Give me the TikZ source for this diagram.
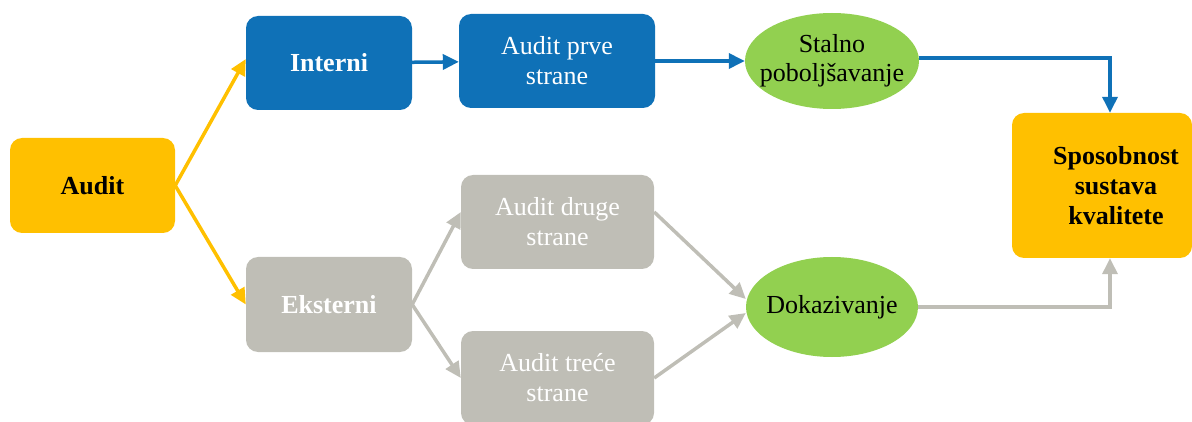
\documentclass[tikz,border=0pt]{standalone}
\usepackage{fontspec}
\setmainfont{Liberation Serif}
\usetikzlibrary{arrows.meta,positioning,calc,shapes.geometric}
\definecolor{auditblue}{HTML}{0F71B7}
\definecolor{auditorange}{HTML}{FFC000}
\definecolor{auditgray}{HTML}{BFBEB6}
\definecolor{auditgreen}{HTML}{92D050}
\begin{document}
\begin{tikzpicture}[x=1pt,y=-1pt,
  box/.style={rectangle,rounded corners=12pt,inner sep=0pt,align=center,font=\fontsize{26}{30}\selectfont},
  orangebox/.style={box,fill=auditorange,text=black,font=\fontsize{26}{30}\selectfont\bfseries},
  bluebox/.style={box,fill=auditblue,text=white},
  graybox/.style={box,fill=auditgray,text=white},
  greenoval/.style={ellipse,fill=auditgreen,inner xsep=-30pt,inner ysep=0pt,align=center,font=\fontsize{26}{29}\selectfont},
  line/.style={line width=3.5pt,-{Triangle[length=16pt,width=15pt]}},
  orangeline/.style={line,auditorange},
  blueline/.style={line,auditblue},
  grayline/.style={line,auditgray}]
\useasboundingbox (0,0) rectangle (1192,422);
\clip (0,0) rectangle (1192,422);
\node[orangebox,minimum width=165pt,minimum height=95pt] (audit) at (92.5,185.5) {Audit};
\node[bluebox,minimum width=166pt,minimum height=94pt,font=\fontsize{26}{30}\selectfont\bfseries] (interni) at (329,63) {Interni};
\node[bluebox,minimum width=196pt,minimum height=94pt] (prve) at (557,61) {Audit prve\\strane};
\node[greenoval,minimum width=174pt,minimum height=96pt] (stalno) at (832,61) {Stalno\\poboljšavanje};
\node[orangebox,minimum width=180pt,minimum height=145pt] (sposobnost) at (1102,185.5) {\hspace{28pt}Sposobnost\\\hspace{28pt}sustava\\\hspace{28pt}kvalitete};
\node[graybox,minimum width=166pt,minimum height=95pt,font=\fontsize{26}{30}\selectfont\bfseries] (eksterni) at (329,304.5) {Eksterni};
\node[graybox,minimum width=193pt,minimum height=94pt] (druge) at (557.5,222) {Audit druge\\strane};
\node[graybox,minimum width=193pt,minimum height=94pt] (trece) at (557.5,378) {Audit treće\\strane};
\node[greenoval,minimum width=172pt,minimum height=100pt] (dokaz) at (832,307) {Dokazivanje};
\draw[orangeline] (audit.east) -- ([yshift=4pt]interni.west);
\draw[orangeline] (audit.east) -- (eksterni.west);
\draw[blueline] (interni) -- (prve);
\draw[blueline] (prve.east) -- (stalno.west);
\draw[blueline] ([yshift=3pt]stalno.east) -| ([xshift=8pt]sposobnost.north);
\draw[grayline] (eksterni.east) -- ([yshift=10pt]druge.west);
\draw[grayline] (eksterni.east) -- (trece.west);
\draw[grayline] ([yshift=10pt]druge.east) -- ([yshift=8pt]dokaz.west);
\draw[grayline] (trece.east) -- ([yshift=-6pt]dokaz.west);
\draw[grayline] (dokaz.east) -| ([xshift=8pt]sposobnost.south);
\end{tikzpicture}
\end{document}
